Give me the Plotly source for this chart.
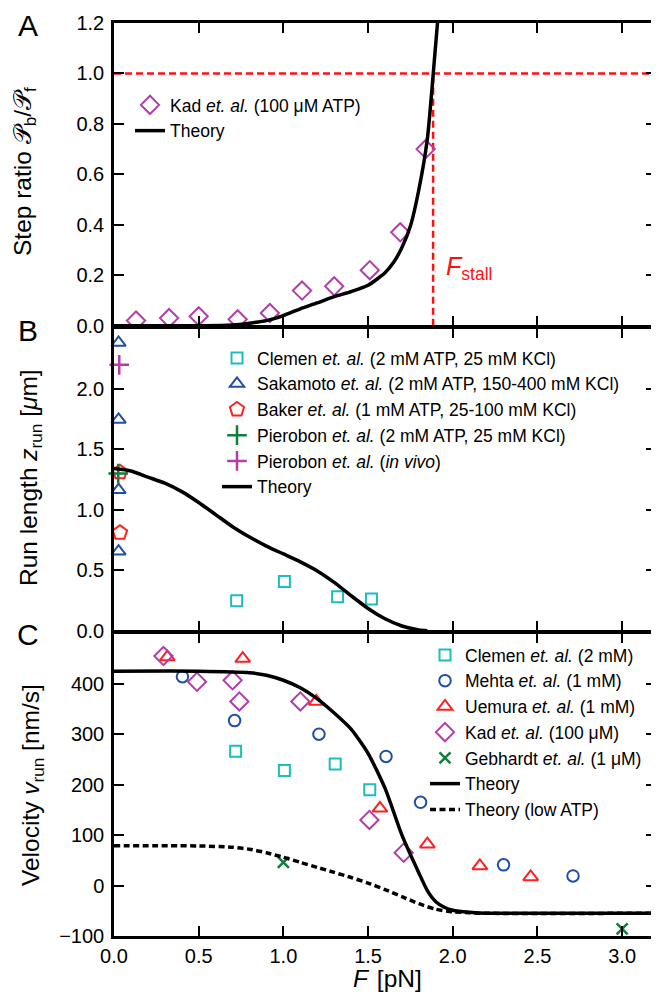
import plotly.graph_objects as go
from plotly.subplots import make_subplots

# ---------------- Panel A: step ratio ----------------
F_kad_A = [0.13, 0.325, 0.50, 0.73, 0.92, 1.11, 1.30, 1.51, 1.69, 1.84]
R_kad_A = [0.02, 0.03, 0.037, 0.025, 0.05, 0.139, 0.156, 0.22, 0.37, 0.70]

F_theory_A = [0, 0.5, 0.7, 0.8, 0.9, 1.0, 1.1, 1.2, 1.3, 1.4, 1.5, 1.6, 1.65, 1.7, 1.75, 1.8, 1.85, 1.88, 1.91, 1.93]
R_theory_A = [0, 0, 0.003, 0.01, 0.02, 0.04, 0.067, 0.09, 0.115, 0.135, 0.16, 0.21, 0.25, 0.31, 0.395, 0.54, 0.74, 0.96, 1.2, 1.32]

F_stall = 1.884
ratio_one = 1.0

# ---------------- Panel B: run length ----------------
F_clemen_B = [0.724, 1.006, 1.32, 1.52]
Z_clemen_B = [0.248, 0.407, 0.281, 0.262]
F_sakamoto = [0.027, 0.027, 0.027, 0.027]
Z_sakamoto = [2.38, 1.745, 1.164, 0.656]
F_baker = [0.035, 0.035]
Z_baker = [1.31, 0.81]
F_pierobon = [0.025]
Z_pierobon = [1.30]
F_pierobon_vivo = [0.031]
Z_pierobon_vivo = [2.197]

F_theory_B = [0, 0.1, 0.2, 0.3, 0.4, 0.5, 0.6, 0.7, 0.8, 0.9, 1.0, 1.1, 1.2, 1.3, 1.4, 1.5, 1.6, 1.7, 1.8, 1.85]
Z_theory_B = [1.34, 1.32, 1.27, 1.22, 1.15, 1.06, 0.96, 0.86, 0.775, 0.70, 0.635, 0.57, 0.495, 0.40, 0.29, 0.185, 0.10, 0.04, 0.007, 0.0]

# ---------------- Panel C: velocity ----------------
F_clemen_C = [0.718, 1.006, 1.306, 1.51]
V_clemen_C = [266, 228, 241, 190]
F_mehta = [0.404, 0.712, 1.21, 1.606, 1.81, 2.30, 2.71]
V_mehta = [414, 327, 300, 256, 165, 41, 19]
F_uemura = [0.315, 0.76, 1.194, 1.57, 1.85, 2.16, 2.46]
V_uemura = [453, 450, 365, 153, 82, 39, 17]
F_kad_C = [0.292, 0.49, 0.70, 0.74, 1.10, 1.508, 1.71]
V_kad_C = [455, 404, 407, 365, 365, 130, 65]
F_gebhardt = [1.0, 3.0]
V_gebhardt = [46, -86]

F_theory_C = [0, 0.5, 0.8, 0.9, 1.0, 1.1, 1.2, 1.3, 1.4, 1.5, 1.6, 1.7, 1.8, 1.85, 1.9, 1.95, 2.0, 2.1, 2.2, 2.4, 3.2]
V_theory_C = [425, 425, 422, 417, 407, 392, 370, 342, 310, 262, 193, 100, 25, -10, -32, -43, -49, -53, -55, -55, -55]

F_theory_low = [0, 0.5, 0.7, 0.8, 0.9, 1.0, 1.1, 1.2, 1.3, 1.4, 1.5, 1.6, 1.7, 1.8, 1.9, 2.0, 2.1, 2.2, 3.2]
V_theory_low = [79, 78.5, 76, 72, 65, 56, 46, 36, 26, 16, 5, -8, -22, -36, -47, -52, -54, -55, -55]

x_ticks = [0, 0.5, 1.0, 1.5, 2.0, 2.5, 3.0]
yA_ticks = [0, 0.2, 0.4, 0.6, 0.8, 1.0, 1.2]
yB_ticks = [0, 0.5, 1.0, 1.5, 2.0, 2.5]
yB_text = ["0.0", "0.5", "1.0", "1.5", "2.0", ""]
yC_ticks = [-100, 0, 100, 200, 300, 400, 500]
yC_text = ["\u2212100", "0", "100", "200", "300", "400", ""]

MAG = "#B03FA8"
CYAN = "#1CBDBD"
BLUE = "#1F4FA6"
RED = "#FF1F1F"
GREEN = "#0F7F3A"
FONT = "Liberation Sans, Arial, Helvetica, sans-serif"

# the page body adds an 8px offset; the figure is sized so it fills the 659x999 window
OFF = 8
W, H = 659 - OFF, 999 - OFF
ML, MR, MT, MB = 106, 3, 15, 63
PW, PH = W - ML - MR, H - MT - MB
LW = 2.5

fig = make_subplots(rows=3, cols=1, shared_xaxes=True, vertical_spacing=LW / PH)


def mk(x, y, name, symbol, color, size, legend, lw=2.0, clip=True):
    return go.Scatter(x=x, y=y, mode="markers", name=name, legend=legend,
                      cliponaxis=clip,
                      marker=dict(symbol=symbol, size=size, color=color,
                                  line=dict(color=color, width=lw)))


def ln(x, y, name, legend, dash="solid", show=True, color="black", width=3.5):
    return go.Scatter(x=x, y=y, mode="lines", name=name, legend=legend, showlegend=show,
                      line=dict(color=color, width=width, dash=dash, shape="spline", smoothing=0.6))


# Panel A
fig.add_trace(go.Scatter(x=[0, 3.2], y=[ratio_one, ratio_one], mode="lines", showlegend=False,
                         line=dict(color="#FF1010", width=2.5, dash="7px,4px")), row=1, col=1)
fig.add_trace(go.Scatter(x=[F_stall, F_stall], y=[0, ratio_one], mode="lines", showlegend=False,
                         line=dict(color="#FF1010", width=2.5, dash="7px,4px")), row=1, col=1)
fig.add_trace(mk(F_kad_A, R_kad_A, "Kad <i>et. al.</i> (100 \u03bcM ATP)", "diamond-open", MAG, 14, "legend"), row=1, col=1)
fig.add_trace(ln(F_theory_A, R_theory_A, "Theory", "legend"), row=1, col=1)

# Panel B
fig.add_trace(mk(F_clemen_B, Z_clemen_B, "Clemen <i>et. al.</i> (2 mM ATP, 25 mM KCl)", "square-open", CYAN, 11, "legend2"), row=2, col=1)
fig.add_trace(mk(F_sakamoto, Z_sakamoto, "Sakamoto <i>et. al.</i> (2 mM ATP, 150-400 mM KCl)", "triangle-up-open", BLUE, 12.5, "legend2", clip=False), row=2, col=1)
fig.add_trace(mk(F_baker, Z_baker, "Baker <i>et. al.</i> (1 mM ATP, 25-100 mM KCl)", "pentagon-open", RED, 15, "legend2", clip=False), row=2, col=1)
fig.add_trace(mk(F_pierobon, Z_pierobon, "Pierobon <i>et. al.</i> (2 mM ATP, 25 mM KCl)", "cross-thin-open", GREEN, 14, "legend2", lw=2.5, clip=False), row=2, col=1)
fig.add_trace(mk(F_pierobon_vivo, Z_pierobon_vivo, "Pierobon <i>et. al.</i> (<i>in vivo</i>)", "cross-thin-open", MAG, 14, "legend2", lw=2.5, clip=False), row=2, col=1)
fig.add_trace(ln(F_theory_B, Z_theory_B, "Theory", "legend2"), row=2, col=1)

# Panel C
fig.add_trace(mk(F_clemen_C, V_clemen_C, "Clemen <i>et. al.</i> (2 mM)", "square-open", CYAN, 11, "legend3"), row=3, col=1)
fig.add_trace(mk(F_mehta, V_mehta, "Mehta <i>et. al.</i> (1 mM)", "circle-open", BLUE, 11.5, "legend3"), row=3, col=1)
fig.add_trace(mk(F_uemura, V_uemura, "Uemura <i>et. al.</i> (1 mM)", "triangle-up-open", RED, 13, "legend3"), row=3, col=1)
fig.add_trace(mk(F_kad_C, V_kad_C, "Kad <i>et. al.</i> (100 \u03bcM)", "diamond-open", MAG, 14, "legend3"), row=3, col=1)
fig.add_trace(mk(F_gebhardt, V_gebhardt, "Gebhardt <i>et. al.</i> (1 \u03bcM)", "x-thin-open", GREEN, 11, "legend3", lw=2.5), row=3, col=1)
fig.add_trace(ln(F_theory_C, V_theory_C, "Theory", "legend3"), row=3, col=1)
fig.add_trace(ln(F_theory_low, V_theory_low, "Theory (low ATP)", "legend3", dash="6px,3.5px"), row=3, col=1)

axis_common = dict(showline=True, linecolor="black", linewidth=LW, mirror="ticks",
                   ticks="inside", ticklen=10, tickwidth=1.5, tickcolor="black",
                   showgrid=False, zeroline=False, automargin=False,
                   tickfont=dict(family=FONT, size=20, color="black"))

for r in (1, 2, 3):
    fig.update_xaxes(range=[0, 3.2], tickvals=x_ticks, tickformat=".1f", row=r, col=1, **axis_common)
fig.update_xaxes(showticklabels=True, ticklabelstandoff=0, row=3, col=1)
fig.update_yaxes(range=[0, 1.2], tickvals=yA_ticks, tickformat=".1f", ticklabelstandoff=3, row=1, col=1, **axis_common)
fig.update_yaxes(range=[0, 2.5], tickvals=yB_ticks, ticktext=yB_text, ticklabelstandoff=3, row=2, col=1, **axis_common)
fig.update_yaxes(range=[-100, 500], tickvals=yC_ticks, ticktext=yC_text, ticklabelstandoff=3, row=3, col=1, **axis_common)


# helpers: convert screen pixel positions to paper coordinates
def px(x):
    return (x - OFF - ML) / PW


def py(y):
    return (H - MB - (y - OFF)) / PH


LEGFS = 17.5
leg_common = dict(xanchor="left", yanchor="top", bgcolor="rgba(0,0,0,0)", borderwidth=0,
                  font=dict(family=FONT, size=LEGFS, color="black"), itemwidth=30,
                  tracegroupgap=0, xref="paper", yref="paper")

annots = []
TF = dict(family=FONT, size=24.5, color="black")
annots.append(dict(text="Step ratio \U0001D4AB<sub>b</sub>/\U0001D4AB<sub>f</sub>", x=px(24), y=py(172),
                   textangle=-90, font=TF))
annots.append(dict(text="Run length <i>z</i><sub>run</sub> [<i>\u03bc</i>m]", x=px(31), y=py(478),
                   textangle=-90, font=TF))
annots.append(dict(text="Velocity <i>v</i><sub>run</sub> [nm/s]", x=px(32), y=py(785),
                   textangle=-90, font=TF))
annots.append(dict(text="<i>F</i> \u200a[pN]", x=px(387), y=py(978), font=TF))
for letter, yy in (("A", 26), ("B", 330), ("C", 634)):
    annots.append(dict(text=letter, x=px(28), y=py(yy), font=dict(family=FONT, size=30, color="black")))
for a in annots:
    a.update(xref="paper", yref="paper", showarrow=False, xanchor="center", yanchor="middle")
annots.append(dict(text="<i>F</i><sub>stall</sub>", x=1.95, y=0.23, xref="x", yref="y",
                   showarrow=False, xanchor="left", yanchor="middle",
                   font=dict(family=FONT, size=25, color="#FF1010")))

fig.update_layout(
    width=W, height=H, margin=dict(l=ML, r=MR, t=MT, b=MB, autoexpand=False),
    paper_bgcolor="white", plot_bgcolor="white",
    font=dict(family=FONT, size=18, color="black"),
    annotations=annots,
    legend=dict(x=px(130), y=py(87), **leg_common),
    legend2=dict(x=px(217), y=py(340), **leg_common),
    legend3=dict(x=px(425), y=py(637), **leg_common),
)

fig.write_html("out.html")
